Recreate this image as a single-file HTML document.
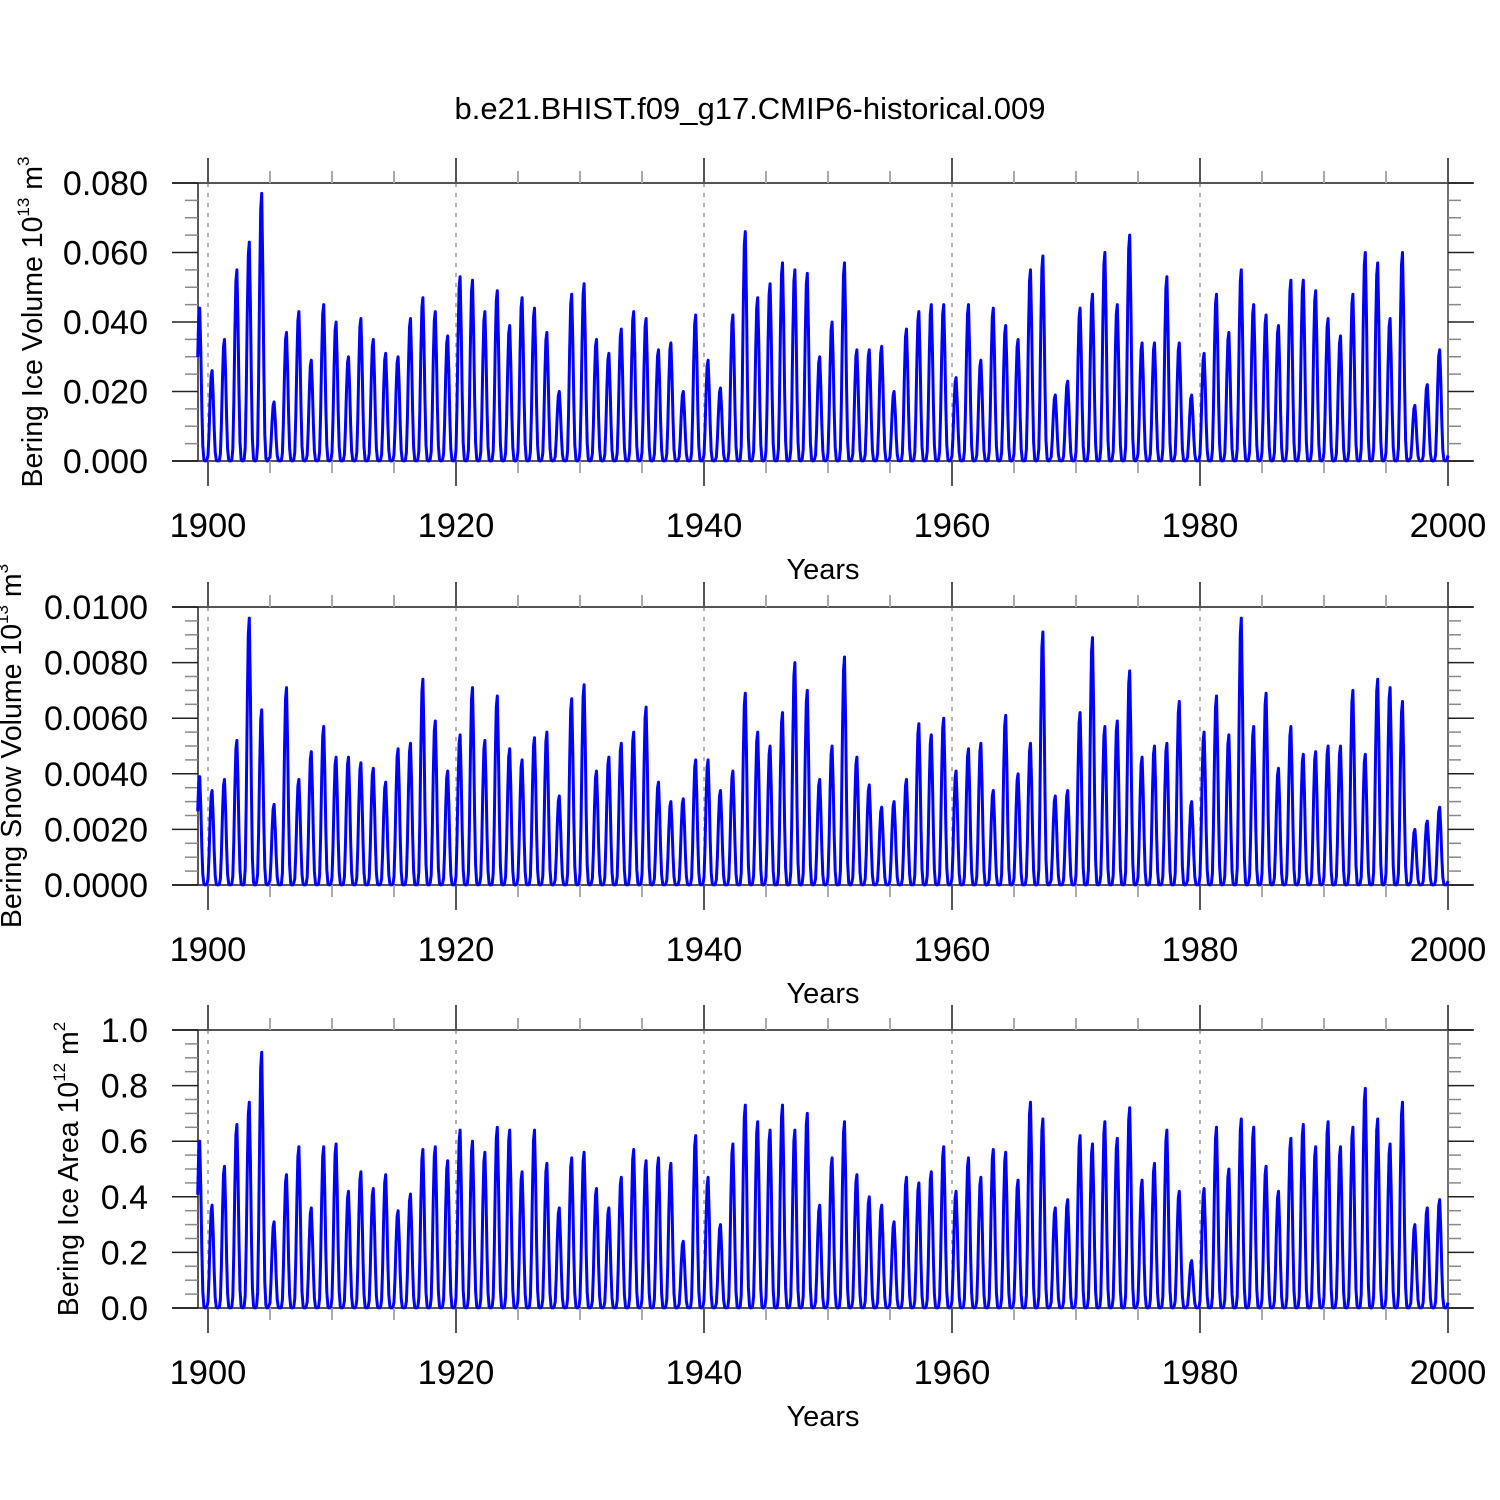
<!DOCTYPE html>
<html><head><meta charset="utf-8"><style>
body{margin:0;background:#fff}
svg{display:block;font-family:"Liberation Sans",sans-serif}
</style></head><body>
<svg id="c" width="1500" height="1500" viewBox="0 0 1500 1500">
<text x="750" y="119" text-anchor="middle" font-size="31">b.e21.BHIST.f09_g17.CMIP6-historical.009</text>
</svg>
<script>
const startYear = 1899;
const icePeaks = [0.044,0.026,0.035,0.055,0.063,0.077,0.017,0.037,0.043,0.029,
0.045,0.040,0.030,0.041,0.035,0.031,0.030,0.041,0.047,0.043,
0.036,0.053,0.052,0.043,0.049,0.039,0.047,0.044,0.037,0.020,
0.048,0.051,0.035,0.031,0.038,0.043,0.041,0.032,0.034,0.020,
0.042,0.029,0.021,0.042,0.066,0.047,0.051,0.057,0.055,0.054,
0.030,0.040,0.057,0.032,0.032,0.033,0.020,0.038,0.043,0.045,
0.045,0.024,0.045,0.029,0.044,0.039,0.035,0.055,0.059,0.019,
0.023,0.044,0.048,0.060,0.045,0.065,0.034,0.034,0.053,0.034,
0.019,0.031,0.048,0.037,0.055,0.045,0.042,0.039,0.052,0.052,
0.049,0.041,0.036,0.048,0.060,0.057,0.041,0.060,0.016,0.022,0.032];
const snowPeaks = [0.0039,0.0034,0.0038,0.0052,0.0096,0.0063,0.0029,0.0071,0.0038,0.0048,
0.0057,0.0046,0.0046,0.0044,0.0042,0.0037,0.0049,0.0051,0.0074,0.0059,
0.0041,0.0054,0.0071,0.0052,0.0068,0.0049,0.0045,0.0053,0.0055,0.0032,
0.0067,0.0072,0.0041,0.0046,0.0051,0.0055,0.0064,0.0037,0.0030,0.0031,
0.0045,0.0045,0.0034,0.0041,0.0069,0.0055,0.0050,0.0062,0.0080,0.0070,
0.0038,0.0050,0.0082,0.0046,0.0036,0.0028,0.0030,0.0038,0.0058,0.0054,
0.0060,0.0041,0.0049,0.0051,0.0034,0.0061,0.0040,0.0051,0.0091,0.0032,
0.0034,0.0062,0.0089,0.0057,0.0059,0.0077,0.0046,0.0050,0.0051,0.0066,
0.0030,0.0055,0.0068,0.0054,0.0096,0.0057,0.0069,0.0042,0.0057,0.0047,
0.0048,0.0050,0.0050,0.0070,0.0047,0.0074,0.0071,0.0066,0.0020,0.0023,0.0028];
const areaPeaks = [0.60,0.37,0.51,0.66,0.74,0.92,0.31,0.48,0.58,0.36,
0.58,0.59,0.42,0.49,0.43,0.48,0.35,0.41,0.57,0.58,
0.53,0.64,0.60,0.56,0.65,0.64,0.49,0.64,0.52,0.36,
0.54,0.56,0.43,0.36,0.47,0.57,0.53,0.54,0.52,0.24,
0.62,0.47,0.30,0.59,0.73,0.67,0.64,0.73,0.64,0.70,
0.37,0.54,0.67,0.48,0.40,0.37,0.31,0.47,0.45,0.49,
0.58,0.42,0.54,0.47,0.57,0.56,0.46,0.74,0.68,0.36,
0.39,0.62,0.59,0.67,0.61,0.72,0.46,0.52,0.64,0.42,
0.17,0.43,0.65,0.50,0.68,0.65,0.51,0.42,0.61,0.66,
0.58,0.67,0.58,0.65,0.79,0.68,0.59,0.74,0.30,0.36,0.39];
const xTickLabels = ["1900","1920","1940","1960","1980","2000"];
const iceTicks = ["0.000","0.020","0.040","0.060","0.080"];
const snowTicks = ["0.0000","0.0020","0.0040","0.0060","0.0080","0.0100"];
const areaTicks = ["0.0","0.2","0.4","0.6","0.8","1.0"];

const NS="http://www.w3.org/2000/svg", svg=document.getElementById('c');
function el(t,a,p){const e=document.createElementNS(NS,t);for(const k in a)e.setAttribute(k,a[k]);(p||svg).appendChild(e);return e;}
const X0=208, PX=12.4;
function xs(t){return X0+(t-1900)*PX;}
const shape=[0.06,0.3,0.68,0.94,1.0,0.72,0.36,0.1,0.01,0,0,0.01];

function panel(name,peaks,ticks,ymax,minorStep,top,ytitle,sup,label,pw){
  const bot=top+278;
  const ys=v=>bot-(v/ymax)*278;
  const g=el('g',{});
  
  
  for(let y=1900;y<2000;y+=20){const l=el('line',{x1:xs(y),x2:xs(y),y1:top,y2:bot,stroke:'#999','stroke-width':1.5,'stroke-dasharray':'4,6'},g);
    }
  el('line',{x1:172,x2:1473,y1:top,y2:top,stroke:'#555','stroke-width':2},g);
  el('line',{x1:172,x2:1473,y1:bot,y2:bot,stroke:'#555','stroke-width':2},g);
  el('line',{x1:198,x2:198,y1:top,y2:bot,stroke:'#222','stroke-width':1.5},g);
  el('line',{x1:1448,x2:1448,y1:top,y2:bot,stroke:'#444','stroke-width':1.5},g);
  for(let y=1900;y<=2000;y+=5){const maj=y%20===0,L=maj?25:12;
    el('line',{x1:xs(y),x2:xs(y),y1:top-L,y2:top,stroke:maj?'#555':'#aaa','stroke-width':2},g);
    el('line',{x1:xs(y),x2:xs(y),y1:bot,y2:bot+L,stroke:maj?'#555':'#aaa','stroke-width':2},g);}
  xTickLabels.forEach((s,i)=>{const t=el('text',{x:xs(1900+20*i),y:bot+76,'text-anchor':'middle','font-size':34.5},g);t.textContent=s;
    });
  const xt=el('text',{x:823,y:bot+118,'text-anchor':'middle','font-size':29},g);xt.textContent='Years';
  
  const nMin=Math.round(ymax/minorStep);
  for(let i=0;i<=nMin;i++){const v=i*minorStep,maj=i%4===0,y=ys(v),L=maj?26:13;
    el('line',{x1:198-L,x2:198,y1:y,y2:y,stroke:maj?'#222':'#888','stroke-width':1.5},g);
    el('line',{x1:1448,x2:1448+L,y1:y,y2:y,stroke:maj?'#222':'#888','stroke-width':1.5},g);}
  ticks.forEach((s,i)=>{const t=el('text',{x:148,y:ys(i*4*minorStep)+12,'text-anchor':'end','font-size':34},g);t.textContent=s;
    });
  const yt=el('text',{transform:`translate(${ytitle},${(top+bot)/2}) rotate(-90)`,'text-anchor':'middle','font-size':28.5},g);
  yt.innerHTML=`${label} 10<tspan dy="-13" font-size="17">${sup}</tspan><tspan dy="13"> m</tspan><tspan dy="-13" font-size="17">${pw}</tspan>`;
  
  let d='';
  peaks.forEach((p,i)=>{shape.forEach((f,m)=>{const t=startYear+i+m/12;const v=Math.max(p*f,ymax*0.0005);
    if(t<1899.15)return;d+=(d?'L':'M')+xs(t).toFixed(1)+','+ys(v).toFixed(1);});});
  d+='L'+xs(2000).toFixed(1)+','+ys(peaks[peaks.length-1]*0.05).toFixed(1);
  const pth=el('path',{d:d,fill:'none',stroke:'#0000ff','stroke-width':3,'stroke-linejoin':'round'},g);
  
}
panel('ice-volume',icePeaks,iceTicks,0.08,0.005,183,42,'13','Bering Ice Volume','3');
panel('snow-volume',snowPeaks,snowTicks,0.01,0.0005,607,21,'13','Bering Snow Volume','3');
panel('ice-area',areaPeaks,areaTicks,1.0,0.05,1030,78,'12','Bering Ice Area','2');
</script>
</body></html>
